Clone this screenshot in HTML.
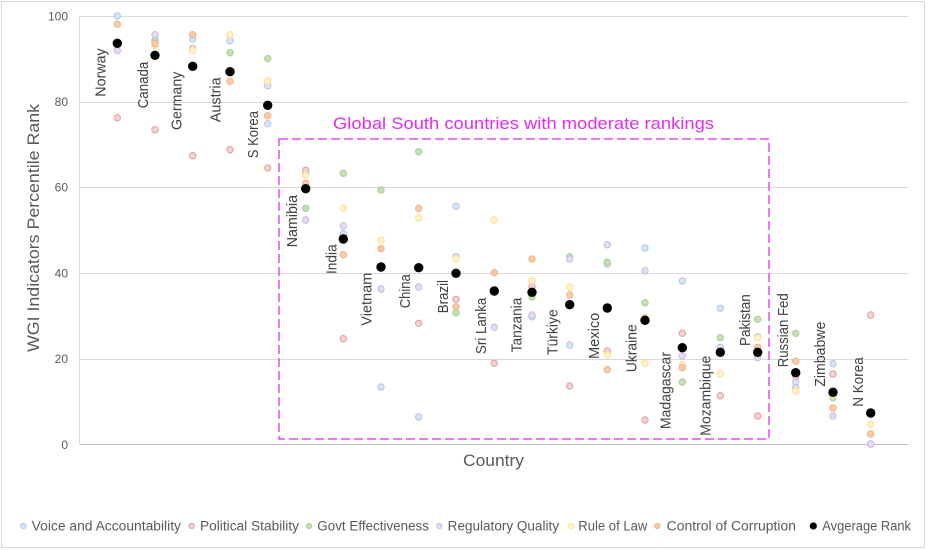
<!DOCTYPE html>
<html>
<head>
<meta charset="utf-8">
<style>
html,body{margin:0;padding:0;background:#fff;}
svg{display:block;}
text{font-family:"Liberation Sans",sans-serif;}
</style>
</head>
<body>
<svg width="929" height="550" viewBox="0 0 929 550" xmlns="http://www.w3.org/2000/svg">
<rect x="0" y="0" width="929" height="550" fill="#fff"/>
<rect x="1.5" y="1.5" width="923" height="546" fill="none" stroke="#d9d9d9" stroke-width="1"/>

<!-- gridlines -->
<g stroke="#d9d9d9" stroke-width="1">
<line x1="80" y1="16.5" x2="908" y2="16.5"/>
<line x1="80" y1="102.5" x2="908" y2="102.5"/>
<line x1="80" y1="187.5" x2="908" y2="187.5"/>
<line x1="80" y1="273.5" x2="908" y2="273.5"/>
<line x1="80" y1="359.5" x2="908" y2="359.5"/>
<line x1="79.5" y1="16" x2="79.5" y2="444.5"/>
</g>
<line x1="80" y1="444.5" x2="908" y2="444.5" stroke="#bfbfbf" stroke-width="1"/>

<!-- y tick labels -->
<g font-size="12" fill="#595959" text-anchor="end">
<text x="68" y="20.5">100</text>
<text x="68" y="106">80</text>
<text x="68" y="191.5">60</text>
<text x="68" y="277.5">40</text>
<text x="68" y="363">20</text>
<text x="68" y="449">0</text>
</g>

<!-- axis titles -->
<text transform="translate(39,352) rotate(-90)" font-size="17" fill="#595959" textLength="248" lengthAdjust="spacingAndGlyphs">WGI Indicators Percentile Rank</text>
<text x="463" y="466" font-size="17" fill="#595959" textLength="61" lengthAdjust="spacingAndGlyphs">Country</text>

<!-- dashed box -->
<rect x="279" y="139" width="490" height="300" fill="none" stroke="#e64cf5" stroke-width="1.5" stroke-dasharray="9,4"/>
<text x="333" y="129" font-size="17" fill="#e02ef0" textLength="381" lengthAdjust="spacingAndGlyphs">Global South countries with moderate rankings</text>

<!-- Voice and Accountability (blue) -->
<g fill="#dae3f3" stroke="#b4c7e7" stroke-width="1">
<circle cx="117.3" cy="16" r="3.2"/>
<circle cx="155" cy="40" r="3.2"/>
<circle cx="192.7" cy="39" r="3.2"/>
<circle cx="230" cy="40.7" r="3.2"/>
<circle cx="267.7" cy="123.7" r="3.2"/>
<circle cx="305.7" cy="173.3" r="3.2"/>
<circle cx="343.3" cy="233.7" r="3.2"/>
<circle cx="381" cy="387" r="3.2"/>
<circle cx="418.7" cy="417" r="3.2"/>
<circle cx="456" cy="206.3" r="3.2"/>
<circle cx="532" cy="316.7" r="3.2"/>
<circle cx="569.7" cy="345" r="3.2"/>
<circle cx="607.3" cy="264.3" r="3.2"/>
<circle cx="645" cy="248" r="3.2"/>
<circle cx="682.3" cy="281" r="3.2"/>
<circle cx="720.3" cy="308.3" r="3.2"/>
<circle cx="757.7" cy="336.7" r="3.2"/>
<circle cx="795.7" cy="382" r="3.2"/>
<circle cx="833" cy="363.7" r="3.2"/>
<circle cx="870.7" cy="444" r="3.2"/>
</g>

<!-- Political Stability (red) -->
<g fill="#f4d2d2" stroke="#dfa0a0" stroke-width="1">
<circle cx="117.3" cy="117.7" r="3.2"/>
<circle cx="155" cy="129.7" r="3.2"/>
<circle cx="192.7" cy="155.7" r="3.2"/>
<circle cx="230" cy="149.7" r="3.2"/>
<circle cx="267.7" cy="168" r="3.2"/>
<circle cx="305.7" cy="170.3" r="3.2"/>
<circle cx="343.3" cy="338.7" r="3.2"/>
<circle cx="418.7" cy="323.3" r="3.2"/>
<circle cx="456" cy="299.3" r="3.2"/>
<circle cx="494.3" cy="363.3" r="3.2"/>
<circle cx="532" cy="286.7" r="3.2"/>
<circle cx="569.7" cy="386" r="3.2"/>
<circle cx="607.3" cy="351" r="3.2"/>
<circle cx="645" cy="420" r="3.2"/>
<circle cx="682.3" cy="333.3" r="3.2"/>
<circle cx="720.3" cy="395.7" r="3.2"/>
<circle cx="757.7" cy="416" r="3.2"/>
<circle cx="795.7" cy="376.3" r="3.2"/>
<circle cx="833" cy="374" r="3.2"/>
<circle cx="870.7" cy="315" r="3.2"/>
</g>

<!-- Govt Effectiveness (green) -->
<g fill="#c5e0b4" stroke="#a9d18e" stroke-width="1">
<circle cx="155" cy="40.7" r="3.2"/>
<circle cx="230" cy="52.7" r="3.2"/>
<circle cx="267.7" cy="58.7" r="3.2"/>
<circle cx="305.7" cy="208.3" r="3.2"/>
<circle cx="343.3" cy="173.3" r="3.2"/>
<circle cx="381" cy="190" r="3.2"/>
<circle cx="418.7" cy="151.7" r="3.2"/>
<circle cx="456" cy="313" r="3.2"/>
<circle cx="532" cy="297" r="3.2"/>
<circle cx="569.7" cy="256.7" r="3.2"/>
<circle cx="607.3" cy="262.3" r="3.2"/>
<circle cx="645" cy="302.7" r="3.2"/>
<circle cx="682.3" cy="382" r="3.2"/>
<circle cx="720.3" cy="337.7" r="3.2"/>
<circle cx="757.7" cy="319.3" r="3.2"/>
<circle cx="795.7" cy="333.3" r="3.2"/>
<circle cx="833" cy="397.7" r="3.2"/>
</g>

<!-- Regulatory Quality (purple) -->
<g fill="#e6dcf2" stroke="#cdb9e6" stroke-width="1">
<circle cx="117.3" cy="50.7" r="3.2"/>
<circle cx="155" cy="34.7" r="3.2"/>
<circle cx="192.7" cy="48.3" r="3.2"/>
<circle cx="267.7" cy="85.7" r="3.2"/>
<circle cx="305.7" cy="220" r="3.2"/>
<circle cx="343.3" cy="226" r="3.2"/>
<circle cx="381" cy="289" r="3.2"/>
<circle cx="418.7" cy="287" r="3.2"/>
<circle cx="456" cy="256.7" r="3.2"/>
<circle cx="494.3" cy="327.3" r="3.2"/>
<circle cx="532" cy="315" r="3.2"/>
<circle cx="569.7" cy="259" r="3.2"/>
<circle cx="607.3" cy="244.7" r="3.2"/>
<circle cx="645" cy="270.7" r="3.2"/>
<circle cx="682.3" cy="355.7" r="3.2"/>
<circle cx="720.3" cy="347.3" r="3.2"/>
<circle cx="757.7" cy="357.7" r="3.2"/>
<circle cx="795.7" cy="387.7" r="3.2"/>
<circle cx="833" cy="416" r="3.2"/>
<circle cx="870.7" cy="444" r="3.2"/>
</g>

<!-- Rule of Law (yellow) -->
<g fill="#fff2cc" stroke="#ffe08a" stroke-width="1">
<circle cx="155" cy="46" r="3.2"/>
<circle cx="192.7" cy="50.3" r="3.2"/>
<circle cx="230" cy="34.7" r="3.2"/>
<circle cx="267.7" cy="81" r="3.2"/>
<circle cx="305.7" cy="175.3" r="3.2"/>
<circle cx="343.3" cy="208.3" r="3.2"/>
<circle cx="381" cy="240.3" r="3.2"/>
<circle cx="418.7" cy="218" r="3.2"/>
<circle cx="456" cy="258.7" r="3.2"/>
<circle cx="494.3" cy="220" r="3.2"/>
<circle cx="532" cy="280.7" r="3.2"/>
<circle cx="569.7" cy="287" r="3.2"/>
<circle cx="607.3" cy="355" r="3.2"/>
<circle cx="645" cy="363.3" r="3.2"/>
<circle cx="682.3" cy="365" r="3.2"/>
<circle cx="720.3" cy="373.7" r="3.2"/>
<circle cx="757.7" cy="337.7" r="3.2"/>
<circle cx="795.7" cy="391" r="3.2"/>
<circle cx="833" cy="395" r="3.2"/>
<circle cx="870.7" cy="424.3" r="3.2"/>
</g>

<!-- Control of Corruption (orange) -->
<g fill="#f8cbad" stroke="#f4b183" stroke-width="1">
<circle cx="117.3" cy="24.3" r="3.2"/>
<circle cx="155" cy="43.7" r="3.2"/>
<circle cx="192.7" cy="34.7" r="3.2"/>
<circle cx="230" cy="81.3" r="3.2"/>
<circle cx="267.7" cy="115.7" r="3.2"/>
<circle cx="305.7" cy="183.3" r="3.2"/>
<circle cx="343.3" cy="254.7" r="3.2"/>
<circle cx="381" cy="248.7" r="3.2"/>
<circle cx="418.7" cy="208.3" r="3.2"/>
<circle cx="456" cy="306.7" r="3.2"/>
<circle cx="494.3" cy="272.7" r="3.2"/>
<circle cx="532" cy="259" r="3.2"/>
<circle cx="569.7" cy="295" r="3.2"/>
<circle cx="607.3" cy="369.7" r="3.2"/>
<circle cx="645" cy="318" r="3.2"/>
<circle cx="682.3" cy="367.7" r="3.2"/>
<circle cx="757.7" cy="347.3" r="3.2"/>
<circle cx="795.7" cy="361.3" r="3.2"/>
<circle cx="833" cy="408" r="3.2"/>
<circle cx="870.7" cy="434" r="3.2"/>
</g>

<!-- Average Rank (black) -->
<g fill="#000">
<circle cx="117.3" cy="43.3" r="4.7"/>
<circle cx="155" cy="55.3" r="4.7"/>
<circle cx="192.7" cy="66.3" r="4.7"/>
<circle cx="230" cy="71.7" r="4.7"/>
<circle cx="267.7" cy="105.3" r="4.7"/>
<circle cx="305.7" cy="188.7" r="4.7"/>
<circle cx="343.3" cy="239" r="4.7"/>
<circle cx="381" cy="267" r="4.7"/>
<circle cx="418.7" cy="267.7" r="4.7"/>
<circle cx="456" cy="273.3" r="4.7"/>
<circle cx="494.3" cy="291" r="4.7"/>
<circle cx="532" cy="292.3" r="4.7"/>
<circle cx="569.7" cy="304.7" r="4.7"/>
<circle cx="607.3" cy="308" r="4.7"/>
<circle cx="645" cy="320.3" r="4.7"/>
<circle cx="682.3" cy="347.7" r="4.7"/>
<circle cx="720.3" cy="352.3" r="4.7"/>
<circle cx="757.7" cy="352.3" r="4.7"/>
<circle cx="795.7" cy="372.7" r="4.7"/>
<circle cx="833" cy="392.3" r="4.7"/>
<circle cx="870.7" cy="413" r="4.7"/>
</g>

<!-- country labels -->
<g font-size="14.5" fill="#404040">
<text transform="translate(105.5,96.7) rotate(-90)" textLength="48.4" lengthAdjust="spacingAndGlyphs">Norway</text>
<text transform="translate(148,108.3) rotate(-90)" textLength="46.6" lengthAdjust="spacingAndGlyphs">Canada</text>
<text transform="translate(181.5,130) rotate(-90)" textLength="58.3" lengthAdjust="spacingAndGlyphs">Germany</text>
<text transform="translate(220.5,122.3) rotate(-90)" textLength="45" lengthAdjust="spacingAndGlyphs">Austria</text>
<text transform="translate(258,158.3) rotate(-90)" textLength="47.3" lengthAdjust="spacingAndGlyphs">S Korea</text>
<text transform="translate(297,247.3) rotate(-90)" textLength="52.3" lengthAdjust="spacingAndGlyphs">Namibia</text>
<text transform="translate(336.5,274) rotate(-90)" textLength="29.7" lengthAdjust="spacingAndGlyphs">India</text>
<text transform="translate(371.5,325.7) rotate(-90)" textLength="53" lengthAdjust="spacingAndGlyphs">Vietnam</text>
<text transform="translate(410,308.3) rotate(-90)" textLength="34" lengthAdjust="spacingAndGlyphs">China</text>
<text transform="translate(448,313.3) rotate(-90)" textLength="33.3" lengthAdjust="spacingAndGlyphs">Brazil</text>
<text transform="translate(486,354) rotate(-90)" textLength="56.3" lengthAdjust="spacingAndGlyphs">Sri Lanka</text>
<text transform="translate(521.5,352.3) rotate(-90)" textLength="54.6" lengthAdjust="spacingAndGlyphs">Tanzania</text>
<text transform="translate(557.5,355) rotate(-90)" textLength="45.7" lengthAdjust="spacingAndGlyphs">Türkiye</text>
<text transform="translate(599,359) rotate(-90)" textLength="46.3" lengthAdjust="spacingAndGlyphs">Mexico</text>
<text transform="translate(636.5,372.3) rotate(-90)" textLength="48" lengthAdjust="spacingAndGlyphs">Ukraine</text>
<text transform="translate(670.5,429) rotate(-90)" textLength="77" lengthAdjust="spacingAndGlyphs">Madagascar</text>
<text transform="translate(710.5,435.7) rotate(-90)" textLength="80" lengthAdjust="spacingAndGlyphs">Mozambique</text>
<text transform="translate(750,346) rotate(-90)" textLength="51.7" lengthAdjust="spacingAndGlyphs">Pakistan</text>
<text transform="translate(788,367.3) rotate(-90)" textLength="74" lengthAdjust="spacingAndGlyphs">Russian Fed</text>
<text transform="translate(825,386.7) rotate(-90)" textLength="65" lengthAdjust="spacingAndGlyphs">Zimbabwe</text>
<text transform="translate(863,406.7) rotate(-90)" textLength="49.4" lengthAdjust="spacingAndGlyphs">N Korea</text>
</g>

<!-- legend -->
<g stroke-width="1">
<circle cx="23.3" cy="526" r="2.6" fill="#dae3f3" stroke="#b4c7e7"/>
<circle cx="191.7" cy="526" r="2.6" fill="#f4d2d2" stroke="#dfa0a0"/>
<circle cx="309" cy="526" r="2.6" fill="#c5e0b4" stroke="#a9d18e"/>
<circle cx="439.3" cy="526" r="2.6" fill="#e6dcf2" stroke="#cdb9e6"/>
<circle cx="571" cy="526" r="2.6" fill="#fff2cc" stroke="#ffe08a"/>
<circle cx="657.3" cy="526" r="2.6" fill="#f8cbad" stroke="#f4b183"/>
<circle cx="813.3" cy="526" r="3.6" fill="#000" stroke="none"/>
</g>
<g font-size="13.5" fill="#595959">
<text x="31.7" y="530.5" textLength="149.3" lengthAdjust="spacingAndGlyphs">Voice and Accountability</text>
<text x="200" y="530.5" textLength="99" lengthAdjust="spacingAndGlyphs">Political Stability</text>
<text x="317.3" y="530.5" textLength="111.7" lengthAdjust="spacingAndGlyphs">Govt Effectiveness</text>
<text x="447.7" y="530.5" textLength="111.3" lengthAdjust="spacingAndGlyphs">Regulatory Quality</text>
<text x="578.3" y="530.5" textLength="69" lengthAdjust="spacingAndGlyphs">Rule of Law</text>
<text x="666.7" y="530.5" textLength="129.3" lengthAdjust="spacingAndGlyphs">Control of Corruption</text>
<text x="822.3" y="530.5" textLength="88.7" lengthAdjust="spacingAndGlyphs">Avgerage Rank</text>
</g>
</svg>
</body>
</html>
